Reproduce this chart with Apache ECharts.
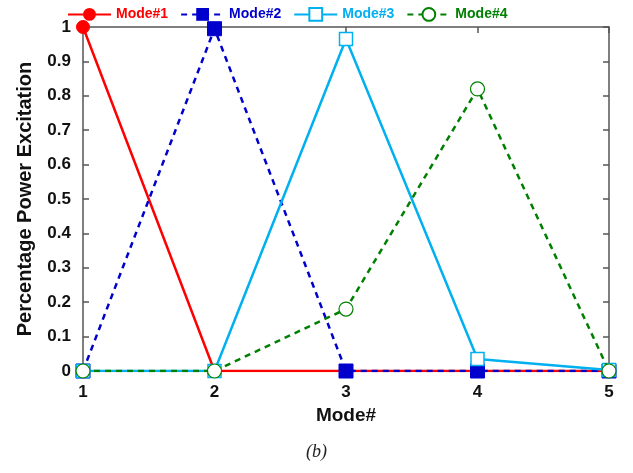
<!DOCTYPE html>
<html>
<head>
<meta charset="utf-8">
<script src="https://cdn.jsdelivr.net/npm/echarts@6/dist/echarts.min.js"></script>
<style>
  html, body { margin: 0; padding: 0; background: #fff; }
  #chart { width: 633px; height: 473px; }
</style>
</head>
<body>
<div id="chart"></div>
<script>
// Mode numbers along the x axis
const modes = [1, 2, 3, 4, 5];
// Percentage power excitation for each mode shape
const mode1 = [1.00, 0.00, 0.00, 0.00, 0.00];
const mode2 = [0.00, 0.995, 0.00, 0.00, 0.00];
const mode3 = [0.00, 0.00, 0.965, 0.035, 0.003];
const mode4 = [0.00, 0.00, 0.18, 0.82, 0.00];
const seriesNames = ['Mode#1', 'Mode#2', 'Mode#3', 'Mode#4'];

const FONT = '"Liberation Sans", Arial, sans-serif';
const pts = v => modes.map((m, i) => [m, v[i]]);

const chart = echarts.init(document.getElementById('chart'));

const axisCommon = {
  axisLine: { show: true, onZero: false, lineStyle: { color: '#555', width: 1.5 } },
  axisTick: { show: true, inside: true, length: 6, lineStyle: { color: '#555', width: 1.5 } },
  splitLine: { show: false }
};

chart.setOption({
  animation: false,
  backgroundColor: '#fff',
  grid: { left: 83, right: 24, top: 27, bottom: 102, containLabel: false },
  legend: {
    top: 2,
    left: 62,
    itemGap: 12,
    itemWidth: 43,
    itemHeight: 16,
    textStyle: { fontFamily: FONT, fontWeight: 'bold', fontSize: 14 },
    data: [
      { name: 'Mode#1', textStyle: { color: '#ff0000' } },
      { name: 'Mode#2', textStyle: { color: '#0000cc' } },
      { name: 'Mode#3', textStyle: { color: '#00b0f0' } },
      { name: 'Mode#4', textStyle: { color: '#008000' } }
    ]
  },
  xAxis: [
    Object.assign({}, axisCommon, {
      type: 'value', min: 1, max: 5, interval: 1, position: 'bottom',
      name: 'Mode#', nameLocation: 'middle', nameGap: 30,
      nameTextStyle: { fontFamily: FONT, fontWeight: 'bold', fontSize: 19, color: '#111' },
      axisLabel: { fontFamily: FONT, fontWeight: 'bold', fontSize: 17, color: '#111', margin: 13 }
    }),
    Object.assign({}, axisCommon, {
      type: 'value', min: 1, max: 5, interval: 1, position: 'top',
      axisLabel: { show: false }
    })
  ],
  yAxis: [
    Object.assign({}, axisCommon, {
      type: 'value', min: 0, max: 1, interval: 0.1, position: 'left',
      name: 'Percentage Power Excitation', nameLocation: 'middle', nameGap: 48,
      nameTextStyle: { fontFamily: FONT, fontWeight: 'bold', fontSize: 20, color: '#111' },
      axisLabel: {
        fontFamily: FONT, fontWeight: 'bold', fontSize: 17, color: '#111', margin: 12,
        formatter: v => String(Math.round(v * 10) / 10)
      }
    }),
    Object.assign({}, axisCommon, {
      type: 'value', min: 0, max: 1, interval: 0.1, position: 'right',
      axisLabel: { show: false }
    })
  ],
  graphic: [{
    type: 'text', left: 'center', top: 443,
    style: { text: '(b)', font: 'italic 18px "Liberation Serif", "Times New Roman", serif', fill: '#222' }
  }],
  series: [
    {
      name: seriesNames[0], type: 'line', data: pts(mode1), z: 2,
      symbol: 'circle', symbolSize: 13,
      lineStyle: { color: '#ff0000', width: 2.5 },
      itemStyle: { color: '#ff0000', borderColor: '#ff0000' }
    },
    {
      name: seriesNames[1], type: 'line', data: pts(mode2), z: 3,
      symbol: 'rect', symbolSize: 14,
      lineStyle: { color: '#0000cc', width: 2.5, type: [6, 5] },
      itemStyle: { color: '#0000cc', borderColor: '#0000cc' }
    },
    {
      name: seriesNames[2], type: 'line', data: pts(mode3), z: 4,
      symbol: 'rect', symbolSize: 13,
      lineStyle: { color: '#00b0f0', width: 2.5 },
      itemStyle: { color: '#ffffff', borderColor: '#00b0f0', borderWidth: 1.5 }
    },
    {
      name: seriesNames[3], type: 'line', data: pts(mode4), z: 5,
      symbol: 'circle', symbolSize: 14,
      lineStyle: { color: '#008000', width: 2.5, type: [6, 5] },
      itemStyle: { color: '#ffffff', borderColor: '#008000', borderWidth: 1.2 }
    }
  ]
});
</script>
</body>
</html>
